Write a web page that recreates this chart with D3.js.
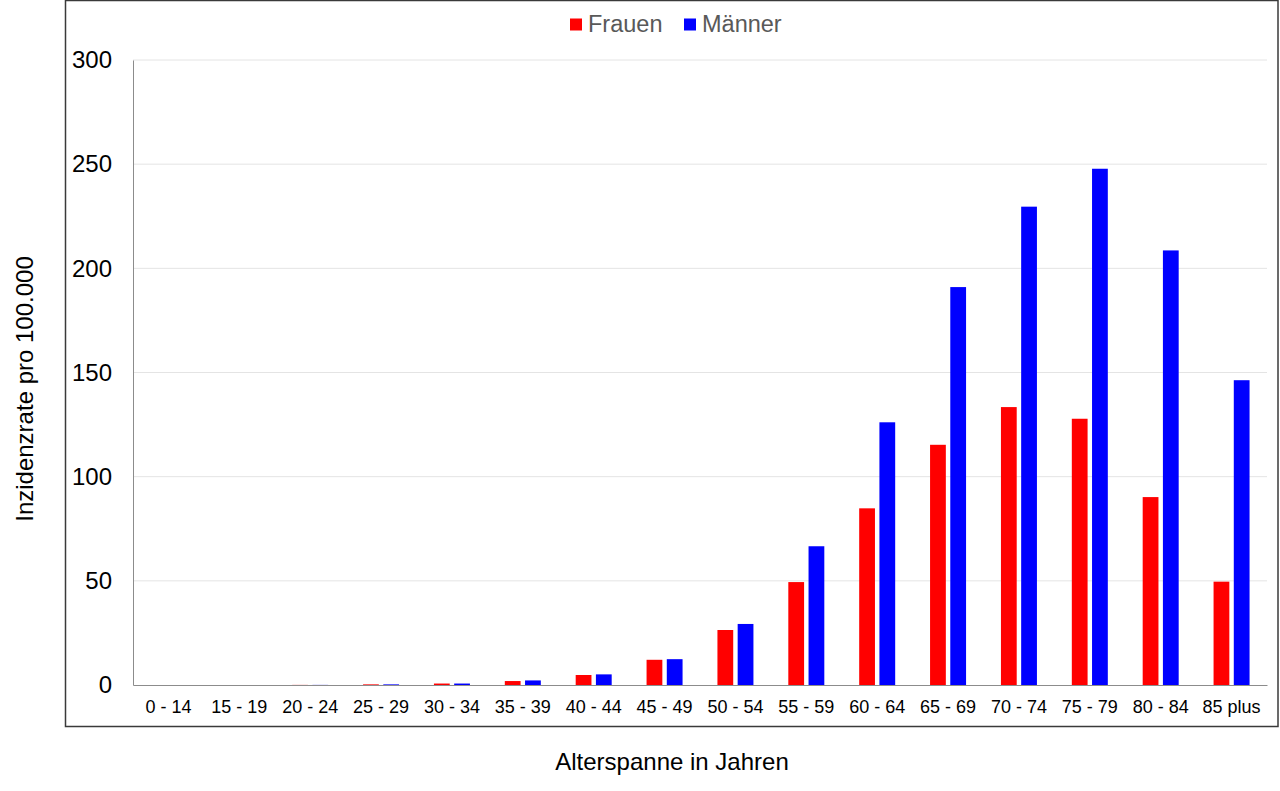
<!DOCTYPE html>
<html lang="de">
<head>
  <meta charset="UTF-8">
  <title>Inzidenzrate nach Alter</title>
  <script src="https://d3js.org/d3.v7.min.js"></script>
  <style>
    body {
      margin: 0;
      background: #fff;
      font-family: "Liberation Sans", Arial, sans-serif;
    }
    .grid line {
      stroke: #e4e4e4;
      stroke-width: 1px;
    }
    .axis path {
      stroke: #8c8c8c;
      stroke-width: 1px;
    }
    .axis line {
      display: none;
    }
  </style>
</head>
<body>
  <svg width="1280" height="791"></svg>

  <script>
    const ageGroups = ["0 - 14", "15 - 19", "20 - 24", "25 - 29", "30 - 34", "35 - 39", "40 - 44",
                       "45 - 49", "50 - 54", "55 - 59", "60 - 64", "65 - 69", "70 - 74", "75 - 79",
                       "80 - 84", "85 plus"];
    const frauen = [0, 0, 0.05, 0.3, 0.7, 1.9, 4.8, 12.1, 26.4, 49.4, 84.8, 115.3, 133.4, 127.8, 90.2, 49.6];
    const maenner = [0, 0, 0.05, 0.3, 0.7, 2.2, 5.1, 12.4, 29.3, 66.6, 126.1, 191.0, 229.6, 247.8, 208.6, 146.3];
    const seriesNames = ["Frauen", "Männer"];
    const seriesColors = ["#ff0000", "#0000ff"];
    const yTicks = [0, 50, 100, 150, 200, 250, 300];

    const svg = d3.select("svg"),
          margin = {top: 60, right: 13, bottom: 106, left: 133},
          width = +svg.attr("width") - margin.left - margin.right,
          height = +svg.attr("height") - margin.top - margin.bottom;

    // outer frame
    svg.append("rect")
      .attr("x", 65.5).attr("y", 0.5)
      .attr("width", 1212.5).attr("height", 726)
      .attr("fill", "none")
      .attr("stroke", "#3a3a3a")
      .attr("stroke-width", 1.5);

    const g = svg.append("g").attr("transform", `translate(${margin.left},${margin.top})`);

    const x0 = d3.scaleBand().domain(ageGroups).range([0, width]);
    const x1 = d3.scaleBand().domain(seriesNames).range([0, 36]).paddingInner(0.22);
    const y = d3.scaleLinear().domain([0, 300]).range([height, 0]);
    const color = d3.scaleOrdinal().domain(seriesNames).range(seriesColors);

    // gridlines
    g.append("g")
      .attr("class", "grid")
      .selectAll("line")
      .data(yTicks.filter(d => d > 0))
      .join("line")
      .attr("x1", 0).attr("x2", width)
      .attr("y1", d => y(d)).attr("y2", d => y(d));

    const rows = ageGroups.map((a, i) => ({age: a, values: [
      {name: "Frauen", v: frauen[i]},
      {name: "Männer", v: maenner[i]}
    ]}));

    g.selectAll(".grp")
      .data(rows)
      .join("g")
      .attr("class", "grp")
      .attr("transform", d => `translate(${x0(d.age) + x0.bandwidth() / 2 - 18},0)`)
      .selectAll("rect")
      .data(d => d.values)
      .join("rect")
      .attr("x", d => x1(d.name))
      .attr("width", x1.bandwidth())
      .attr("y", d => y(d.v))
      .attr("height", d => y(0) - y(d.v))
      .attr("fill", d => color(d.name));

    // axes
    const xAxis = g.append("g")
      .attr("class", "axis")
      .attr("transform", `translate(0,${height})`)
      .call(d3.axisBottom(x0).tickSize(0).tickPadding(15).tickSizeOuter(0));
    xAxis.selectAll("text")
      .attr("font-size", 18)
      .attr("font-family", "Liberation Sans, Arial, sans-serif")
      .attr("fill", "#000");

    const yAxis = g.append("g")
      .attr("class", "axis")
      .call(d3.axisLeft(y).tickValues(yTicks).tickSize(0).tickPadding(21).tickSizeOuter(0));
    yAxis.selectAll("text")
      .attr("font-size", 24)
      .attr("font-family", "Liberation Sans, Arial, sans-serif")
      .attr("fill", "#000");

    // axis titles
    svg.append("text")
      .attr("x", 672).attr("y", 770)
      .attr("text-anchor", "middle")
      .attr("font-size", 24)
      .attr("fill", "#000")
      .text("Alterspanne in Jahren");

    svg.append("text")
      .attr("transform", "translate(33,389) rotate(-90)")
      .attr("text-anchor", "middle")
      .attr("font-size", 24)
      .attr("fill", "#000")
      .text("Inzidenzrate pro 100.000");

    // legend
    const legendX = [570, 684];
    seriesNames.forEach((name, i) => {
      svg.append("rect")
        .attr("x", legendX[i]).attr("y", 18.5)
        .attr("width", 12).attr("height", 12)
        .attr("fill", seriesColors[i]);
      svg.append("text")
        .attr("x", legendX[i] + 18).attr("y", 31.5)
        .attr("font-size", 23.5)
        .attr("fill", "#595959")
        .text(name);
    });
  </script>
</body>
</html>
